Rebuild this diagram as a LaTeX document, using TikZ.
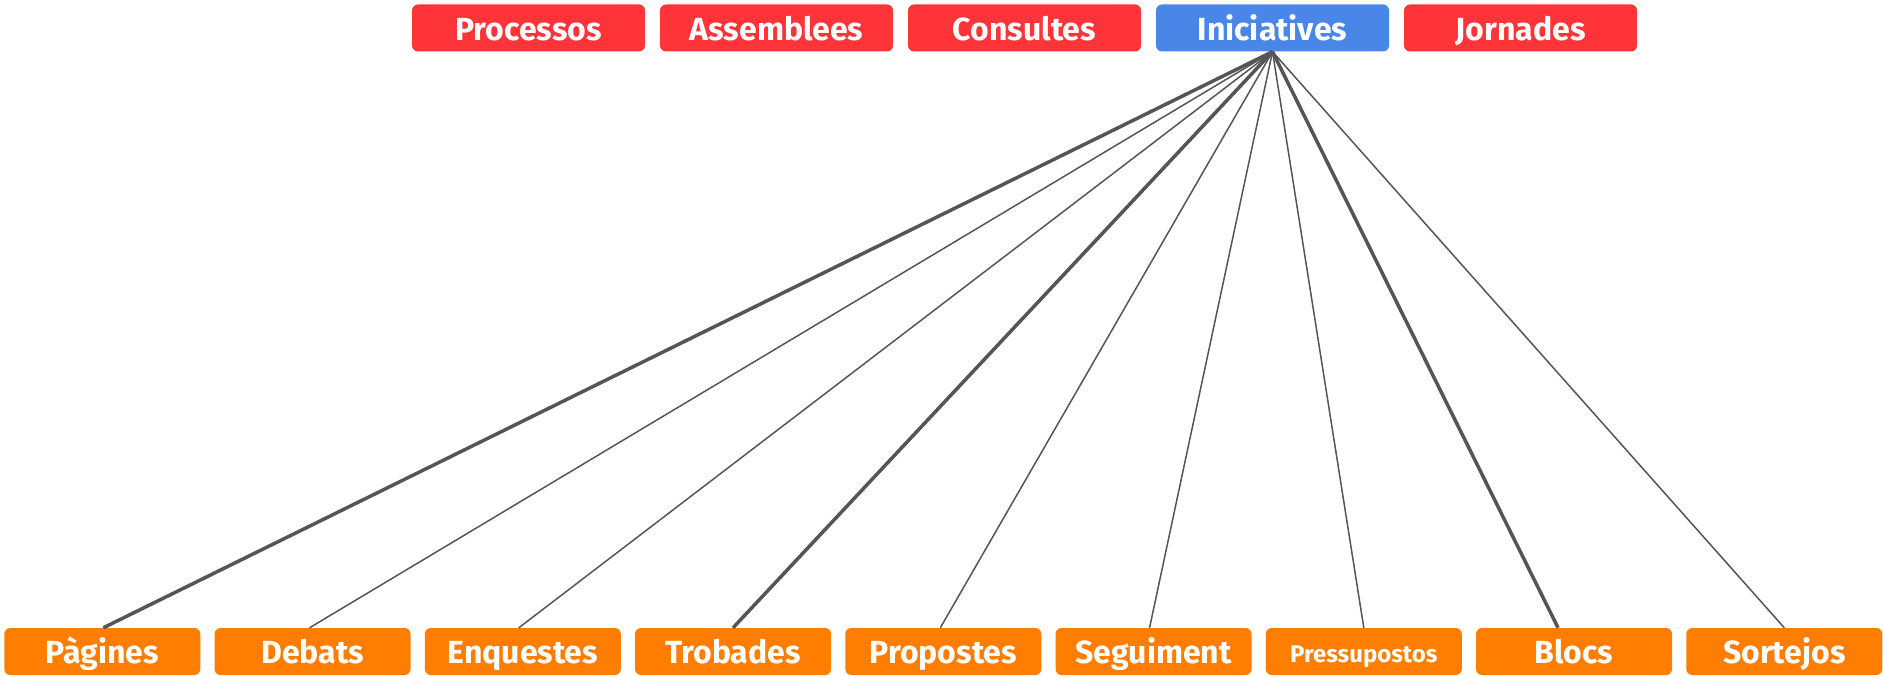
\documentclass[tikz,border=0pt]{standalone}
\usepackage{fontspec}
\setmainfont{Fira Sans}
\definecolor{redbox}{RGB}{255,52,56}
\definecolor{bluebox}{RGB}{74,134,232}
\definecolor{orangebox}{RGB}{255,125,0}
\definecolor{linkgray}{RGB}{85,85,85}
\begin{document}
\begin{tikzpicture}[x=1pt,y=-1pt,
  topbox/.style={fill=redbox,text=white,rounded corners=6pt,minimum width=233pt,minimum height=47pt,inner sep=0pt,text height=26pt,text depth=0pt,font=\fontsize{32}{33}\selectfont\bfseries},
  activebox/.style={topbox,fill=bluebox},
  botbox/.style={fill=orangebox,text=white,rounded corners=6pt,minimum width=196pt,minimum height=47pt,inner sep=0pt,text height=24pt,text depth=0pt,font=\fontsize{32}{33}\selectfont\bfseries},
  smallbotbox/.style={botbox,text height=22pt,font=\fontsize{24}{25}\selectfont\bfseries},
  thin link/.style={draw=linkgray,line width=1.5pt},
  thick link/.style={draw=linkgray,line width=3.5pt}]
\useasboundingbox (0,0) rectangle (1883,676);
% top row
\node[topbox] (proc) at (528.5,28) {Processos};
\node[topbox] (asse) at (776.5,28) {Assemblees};
\node[topbox] (cons) at (1024.5,28) {Consultes};
\node[activebox] (inic) at (1272.5,28) {Iniciatives};
\node[topbox] (jorn) at (1520.5,28) {Jornades};
% bottom row
\node[botbox] (pag) at (102.3,651.5) {Pàgines};
\node[botbox] (deb) at (312.55,651.5) {Debats};
\node[botbox] (enq) at (522.8,651.5) {Enquestes};
\node[botbox] (tro) at (733.05,651.5) {Trobades};
\node[botbox] (pro) at (943.3,651.5) {Propostes};
\node[botbox] (seg) at (1153.55,651.5) {Seguiment};
\node[smallbotbox] (pre) at (1363.8,651.5) {Pressupostos};
\node[botbox] (blo) at (1574.05,651.5) {Blocs};
\node[botbox] (sor) at (1784.3,651.5) {Sortejos};
% links
\draw[thick link] (inic.south) -- ([xshift=1pt]pag.north);
\draw[thin link] (inic.south) -- ([xshift=-3pt]deb.north);
\draw[thin link] (inic.south) -- ([xshift=-4pt]enq.north);
\draw[thick link] (inic.south) -- (tro.north);
\draw[thin link] (inic.south) -- ([xshift=-3pt]pro.north);
\draw[thin link] (inic.south) -- ([xshift=-4pt]seg.north);
\draw[thin link] (inic.south) -- (pre.north);
\draw[thick link] (inic.south) -- ([xshift=-16pt]blo.north);
\draw[thin link] (inic.south) -- (sor.north);
\end{tikzpicture}
\end{document}
